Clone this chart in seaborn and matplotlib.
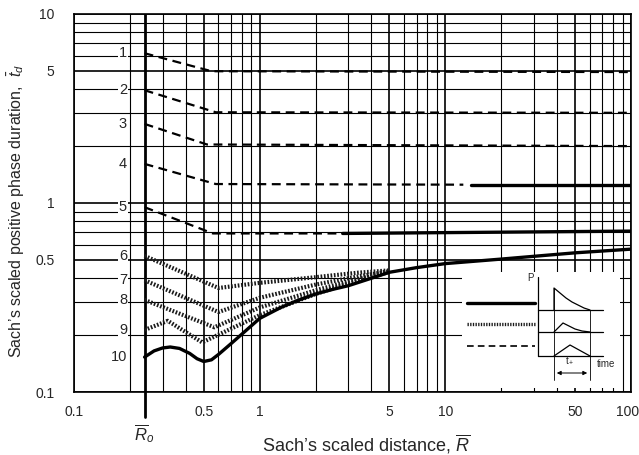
import numpy as np
import pandas as pd
import matplotlib.pyplot as plt
import matplotlib.ticker as mticker
import matplotlib.transforms as mtrans
import seaborn as sns

sns.set_style("white")
plt.rcParams['font.family'] = ['Liberation Sans', 'DejaVu Sans']
plt.rcParams['mathtext.fontset'] = 'custom'
plt.rcParams['mathtext.rm'] = 'Liberation Sans'
plt.rcParams['mathtext.it'] = 'Liberation Sans:italic'

# --- data (Sach's scaled distance vs scaled duration) ---
R0 = 0.24

# dashed curves 1-5 (4 and 5 turn solid further out)
c1_x = [0.24, 0.55, 100];  c1_y = [6.2, 4.98, 4.93]
c2_x = [0.24, 0.58, 100];  c2_y = [3.95, 3.02, 3.0]
c3_x = [0.24, 0.52, 100];  c3_y = [2.62, 2.04, 2.0]
c4_x = [0.24, 0.58, 12.5]; c4_y = [1.61, 1.26, 1.25]
c4s_x = [13.8, 100];       c4s_y = [1.25, 1.25]
c5_x = [0.24, 0.56, 2.7];  c5_y = [0.95, 0.69, 0.69]
c5s_x = [2.8, 100];        c5s_y = [0.69, 0.71]

# hatched curves 6-9
c6_x = [0.24, 0.6, 1.0, 2.0, 3.4, 5.0];   c6_y = [0.525, 0.355, 0.378, 0.405, 0.428, 0.44]
c7_x = [0.24, 0.6, 1.0, 2.0, 3.0, 5.0];   c7_y = [0.39, 0.265, 0.315, 0.37, 0.40, 0.436]
c8_x = [0.24, 0.57, 1.0, 2.0, 3.0, 5.0];  c8_y = [0.307, 0.22, 0.28, 0.345, 0.385, 0.433]
c9_x = [0.24, 0.32, 0.49, 1.0, 2.0, 3.0, 5.0]
c9_y = [0.213, 0.238, 0.183, 0.255, 0.33, 0.375, 0.432]

# solid curve 10
c10_x = [0.24, 0.27, 0.3, 0.33, 0.37, 0.42, 0.46, 0.5, 0.55, 0.6, 0.7, 0.8,
         1.0, 1.3, 1.6, 2.0, 2.5, 3.0, 4.0, 5.0, 7.0, 10, 20, 50, 100]
c10_y = [0.153, 0.165, 0.171, 0.173, 0.17, 0.16, 0.15, 0.145, 0.148, 0.158, 0.18, 0.202,
         0.245, 0.28, 0.305, 0.33, 0.35, 0.365, 0.40, 0.43, 0.455, 0.478, 0.505, 0.545, 0.57]

x_ticks = [0.1, 0.5, 1, 5, 10, 50, 100]
x_labels = ['0.1', '0.5', '1', '5', '10', '50', '100']
y_ticks = [0.1, 0.5, 1, 5, 10]
y_labels = ['0.1', '0.5', '1', '5', '10']

# inset sketch of pressure pulses (inset pixel coords, y downward)
p1_x = [92, 92, 98, 104, 110, 116, 122, 128]; p1_y = [38, 16, 21, 26, 30, 33, 36, 38]
p2_x = [92, 101, 107, 113, 120, 128];        p2_y = [60, 51, 54, 57, 59, 60]
p3_x = [92, 108, 128];                       p3_y = [84, 73, 84]

fig = plt.figure(figsize=(6.39, 4.55), dpi=100)
ax = fig.add_axes([74/639, 63/455, 557/639, 378/455])
ax.set_xscale('log')
ax.set_yscale('log')
ax.set_xlim(0.1, 100)
ax.set_ylim(0.1, 10)

ax.xaxis.set_major_locator(mticker.FixedLocator(x_ticks))
ax.xaxis.set_major_formatter(mticker.FixedFormatter(x_labels))
ax.yaxis.set_major_locator(mticker.FixedLocator(y_ticks))
ax.yaxis.set_major_formatter(mticker.FixedFormatter(y_labels))
ax.xaxis.set_minor_locator(mticker.LogLocator(base=10, subs=np.arange(2, 10)))
ax.yaxis.set_minor_locator(mticker.LogLocator(base=10, subs=np.arange(2, 10)))
ax.xaxis.set_minor_formatter(mticker.NullFormatter())
ax.yaxis.set_minor_formatter(mticker.NullFormatter())
ax.grid(which='major', color='black', lw=1.2)
ax.grid(which='minor', color='black', lw=0.8)
ax.set_axisbelow(True)
ax.tick_params(which='both', length=0)
ax.tick_params(axis='x', pad=9, labelsize=10)
ax.tick_params(axis='y', pad=14, labelsize=10)
for s in ax.spines.values():
    s.set_color('black')
    s.set_linewidth(1.2)

# R0 line, extended below the axis
ax.axvline(R0, color='black', lw=2)
ax.plot([R0, R0], [0, -0.065], color='black', lw=2, transform=ax.get_xaxis_transform(), clip_on=False)
ax.text(R0, -0.08, r'$\overline{R}_o$', transform=ax.get_xaxis_transform(),
        ha='center', va='top', fontsize=12)

dash = (0, (4, 2.5))
for xs, ys in [(c1_x, c1_y), (c2_x, c2_y), (c3_x, c3_y), (c4_x, c4_y), (c5_x, c5_y)]:
    sns.lineplot(x=xs, y=ys, ax=ax, color='black', lw=1.6, linestyle=dash, sort=False, estimator=None)
for xs, ys in [(c4s_x, c4s_y), (c5s_x, c5s_y)]:
    sns.lineplot(x=xs, y=ys, ax=ax, color='black', lw=2.4, sort=False, estimator=None)

hatch = (0, (0.4, 0.4))
for xs, ys in [(c6_x, c6_y), (c7_x, c7_y), (c8_x, c8_y), (c9_x, c9_y)]:
    sns.lineplot(x=xs, y=ys, ax=ax, color='#1a1a1a', lw=3.0, linestyle=hatch, sort=False, estimator=None)
sns.lineplot(x=c10_x, y=c10_y, ax=ax, color='black', lw=2.4, sort=False, estimator=None)

# curve numbers
starts = [c1_y[0], c2_y[0], c3_y[0], c4_y[0], c5_y[0], c6_y[0], c7_y[0], c8_y[0], c9_y[0], c10_y[0]]
for i, yv in enumerate(starts, start=1):
    ax.text(0.193, yv, str(i), ha='right', va='center', fontsize=10.5,
            bbox=dict(facecolor='white', edgecolor='none', pad=0.6))

ax.set_xlabel("Sach\u2019s scaled distance, $\\overline{R}$", fontsize=13)
ax.xaxis.set_label_coords(0.524, -0.108)
ax.set_ylabel("Sach\u2019s scaled positive phase duration,  $\\bar{t}_d$", fontsize=11.5)
ax.yaxis.set_label_coords(-0.085, 0.48)

# nudge the "100" label so it sits inside the picture like the reference
fig.canvas.draw()
last = ax.get_xticklabels()[-1]
last.set_transform(last.get_transform() + mtrans.ScaledTranslation(-3/100, 0, fig.dpi_scale_trans))

# inset legend / pulse sketch
ins = fig.add_axes([462/639, 67/455, 158/639, 116/455])
ins.set_xlim(0, 158)
ins.set_ylim(116, 0)
ins.set_facecolor('white')
ins.axis('off')
ins.add_patch(plt.Rectangle((0, 0), 158, 116, color='white', zorder=0))
ins.plot([5, 73], [31, 31], color='black', lw=2.4)
ins.plot([5, 73], [52, 52], color='#1a1a1a', lw=2.4, linestyle=hatch)
ins.plot([5, 73], [74, 74], color='black', lw=1.2, linestyle=(0, (4, 2.5)))
ins.plot([76, 76], [5, 84], color='black', lw=0.9)
for yb in [38, 60, 84]:
    ins.plot([76, 141], [yb, yb], color='black', lw=0.9)
ins.plot(p1_x, p1_y, color='black', lw=0.9)
ins.plot(p2_x, p2_y, color='black', lw=0.9)
ins.plot(p3_x, p3_y, color='black', lw=0.9)
ins.plot([92, 92], [16, 108], color='black', lw=0.6)
ins.plot([128, 128], [38, 108], color='black', lw=0.6)
ins.annotate('', xy=(92, 101), xytext=(128, 101),
             arrowprops=dict(arrowstyle='<|-|>', color='black', lw=0.7, mutation_scale=6))
ins.text(108, 94, r'$\mathregular{t}_+$', ha='center', va='bottom', fontsize=7)
ins.text(68, 6, 'P', ha='center', va='center', fontsize=7)
ins.text(144, 92, 'time', ha='center', va='center', fontsize=7)

fig.savefig('out.png', dpi=100)
